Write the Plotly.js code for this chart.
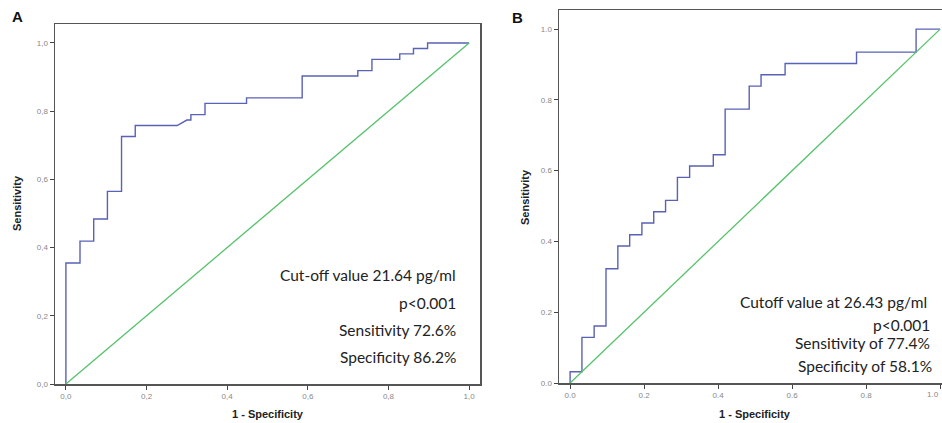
<!DOCTYPE html>
<html>
<head>
<meta charset="utf-8">
<script src="https://cdn.plot.ly/plotly-3.0.1.min.js"></script>
<style>html,body{margin:0;padding:0;background:#fff;overflow:hidden}</style>
</head>
<body>
<div id="chart" style="width:942px;height:423px"></div>
<script>
// Panel A ROC curve (1 - specificity, sensitivity)
const rocA_x = [0, 0, 0.035, 0.035, 0.069, 0.069, 0.103, 0.103, 0.138, 0.138, 0.172, 0.172, 0.276, 0.300, 0.310, 0.310, 0.345, 0.345, 0.448, 0.448, 0.586, 0.586, 0.724, 0.724, 0.759, 0.759, 0.828, 0.828, 0.862, 0.862, 0.897, 0.897, 1.0];
const rocA_y = [0, 0.355, 0.355, 0.419, 0.419, 0.484, 0.484, 0.565, 0.565, 0.726, 0.726, 0.758, 0.758, 0.774, 0.774, 0.790, 0.790, 0.823, 0.823, 0.839, 0.839, 0.903, 0.903, 0.919, 0.919, 0.952, 0.952, 0.968, 0.968, 0.984, 0.984, 1.0, 1.0];
// Panel B ROC curve
const rocB_x = [0, 0, 0.032, 0.032, 0.065, 0.065, 0.097, 0.097, 0.129, 0.129, 0.161, 0.161, 0.194, 0.194, 0.226, 0.226, 0.258, 0.258, 0.290, 0.290, 0.323, 0.323, 0.387, 0.387, 0.419, 0.419, 0.484, 0.484, 0.516, 0.516, 0.581, 0.581, 0.774, 0.774, 0.935, 0.935, 1.0];
const rocB_y = [0, 0.032, 0.032, 0.129, 0.129, 0.161, 0.161, 0.323, 0.323, 0.387, 0.387, 0.419, 0.419, 0.452, 0.452, 0.484, 0.484, 0.516, 0.516, 0.581, 0.581, 0.613, 0.613, 0.645, 0.645, 0.774, 0.774, 0.839, 0.839, 0.871, 0.871, 0.903, 0.903, 0.935, 0.935, 1.0, 1.0];
// Reference line
const ref_x = [0, 1];
const ref_y = [0, 1];
// Ticks
const tickVals = [0, 0.2, 0.4, 0.6, 0.8, 1.0];
const tickTextA = ["0,0", "0,2", "0,4", "0,6", "0,8", "1,0"];
const tickTextB = ["0.0", "0.2", "0.4", "0.6", "0.8", "1.0"];
// Texts
const textA = ["Cut-off value 21.64 pg/ml", "p<0.001", "Sensitivity 72.6%", "Specificity 86.2%"];
const textB = ["Cutoff value at 26.43 pg/ml", "p<0.001", "Sensitivity of 77.4%", "Specificity of 58.1%"];
const panelLabels = ["A", "B"];
const xTitle = "1 - Specificity";
const yTitle = "Sensitivity";

const W = 942, H = 423;
const px = v => v / W;
const py = v => 1 - v / H;

const blue = "#5a62b5", green = "#55c26b";
const traces = [
  {x: rocA_x, y: rocA_y, xaxis: "x", yaxis: "y", mode: "lines", line: {color: blue, width: 1.4}, hoverinfo: "skip"},
  {x: ref_x, y: ref_y, xaxis: "x", yaxis: "y", mode: "lines", line: {color: green, width: 1.3}, hoverinfo: "skip"},
  {x: rocB_x, y: rocB_y, xaxis: "x2", yaxis: "y2", mode: "lines", line: {color: blue, width: 1.4}, hoverinfo: "skip"},
  {x: ref_x, y: ref_y, xaxis: "x2", yaxis: "y2", mode: "lines", line: {color: green, width: 1.3}, hoverinfo: "skip"}
];

const tickFont = {family: "Liberation Sans, Arial, sans-serif", size: 8, color: "#888"};
function ax(extra) {
  return Object.assign({
    showgrid: false, zeroline: false, showline: true, linecolor: "#555", linewidth: 1.5,
    ticks: "outside", ticklen: 4, tickcolor: "#444", tickwidth: 1,
    tickvals: tickVals, tickfont: tickFont, fixedrange: true
  }, extra);
}

const annotations = [];
const lblFont = {family: "Liberation Sans, Arial, sans-serif", size: 15, color: "#111"};
annotations.push({xref: "paper", yref: "paper", x: px(17), y: py(17), text: "<b>" + panelLabels[0] + "</b>", showarrow: false, font: lblFont, xanchor: "center", yanchor: "middle"});
annotations.push({xref: "paper", yref: "paper", x: px(517), y: py(18), text: "<b>" + panelLabels[1] + "</b>", showarrow: false, font: lblFont, xanchor: "center", yanchor: "middle"});
const titleFont = {family: "Liberation Sans, Arial, sans-serif", size: 11, color: "#222"};
annotations.push({xref: "paper", yref: "paper", x: px(268), y: py(414), text: "<b>" + xTitle + "</b>", showarrow: false, font: titleFont, xanchor: "center", yanchor: "middle"});
annotations.push({xref: "paper", yref: "paper", x: px(755), y: py(414), text: "<b>" + xTitle + "</b>", showarrow: false, font: titleFont, xanchor: "center", yanchor: "middle"});
annotations.push({xref: "paper", yref: "paper", x: px(17), y: py(203), text: "<b>" + yTitle + "</b>", showarrow: false, font: titleFont, textangle: -90, xanchor: "center", yanchor: "middle"});
annotations.push({xref: "paper", yref: "paper", x: px(525), y: py(197), text: "<b>" + yTitle + "</b>", showarrow: false, font: titleFont, textangle: -90, xanchor: "center", yanchor: "middle"});
// last x tick label of panel B, kept inside the right edge
annotations.push({xref: "paper", yref: "paper", x: px(941), y: py(394), text: tickTextB[5], showarrow: false, font: tickFont, xanchor: "right", yanchor: "middle"});

const txtFont = {family: "Lato, Carlito, sans-serif", size: 15.5, color: "#222"};
const posA = [[458, 275], [458, 303], [458, 330], [458, 357]];
const posB = [[929, 302], [932, 325], [932, 343], [934, 366]];
textA.forEach((t, i) => annotations.push({xref: "paper", yref: "paper", x: px(posA[i][0]), y: py(posA[i][1]), text: t, showarrow: false, font: txtFont, xanchor: "right", yanchor: "middle"}));
textB.forEach((t, i) => annotations.push({xref: "paper", yref: "paper", x: px(posB[i][0]), y: py(posB[i][1]), text: t, showarrow: false, font: txtFont, xanchor: "right", yanchor: "middle"}));

const layout = {
  width: W, height: H,
  margin: {l: 0, r: 0, t: 0, b: 0},
  paper_bgcolor: "#fff", plot_bgcolor: "#fff",
  showlegend: false,
  xaxis: ax({domain: [px(55), px(480)], range: [-0.027, 1.027], ticktext: tickTextA, anchor: "y", mirror: true}),
  yaxis: ax({domain: [39 / H, 399 / H], range: [0, 1.0557], ticktext: tickTextA, anchor: "x", mirror: true}),
  xaxis2: ax({domain: [px(559), 1], range: [-0.03, 1.005], ticktext: tickTextB, anchor: "y2", mirror: true}),
  yaxis2: ax({domain: [40 / H, 413 / H], range: [0, 1.054], ticktext: tickTextB, anchor: "x2", mirror: false}),
  annotations: annotations
};

Plotly.newPlot("chart", traces, layout, {staticPlot: true, displayModeBar: false});
</script>
</body>
</html>
